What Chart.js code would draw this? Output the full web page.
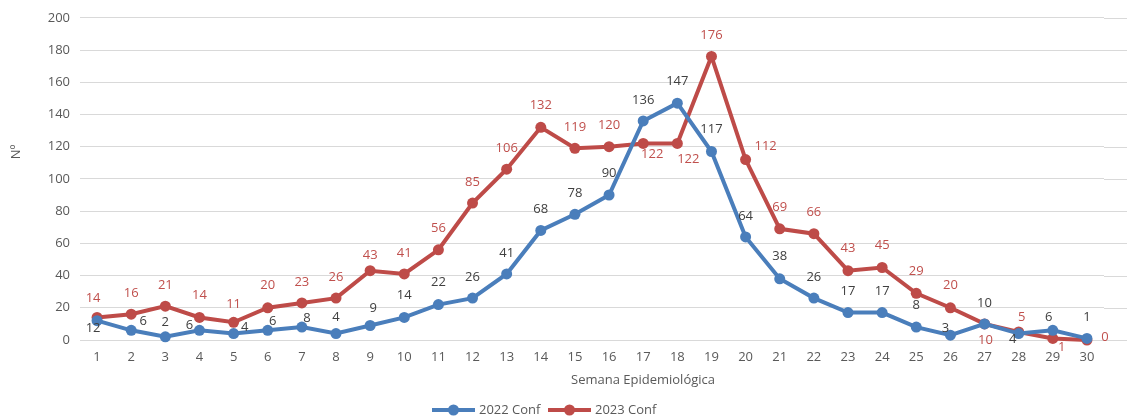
<!DOCTYPE html>
<html>
<head>
<meta charset="utf-8">
<script src="https://cdn.jsdelivr.net/npm/chart.js@4/dist/chart.umd.min.js"></script>
<style>
  html, body { margin: 0; padding: 0; background: #fff; }
  #wrap { width: 1127px; height: 419px; }
</style>
</head>
<body>
<div id="wrap"><canvas id="chart" width="1127" height="419"></canvas></div>
<script>
// data
const weeks = ['1','2','3','4','5','6','7','8','9','10','11','12','13','14','15','16','17','18','19','20','21','22','23','24','25','26','27','28','29','30'];
const conf2022 = [12, 6, 2, 6, 4, 6, 8, 4, 9, 14, 22, 26, 41, 68, 78, 90, 136, 147, 117, 64, 38, 26, 17, 17, 8, 3, 10, 4, 6, 1];
const conf2023 = [14, 16, 21, 14, 11, 20, 23, 26, 43, 41, 56, 85, 106, 132, 119, 120, 122, 122, 176, 112, 69, 66, 43, 45, 29, 20, 10, 5, 1, 0];
const seriesNames = ['2022 Conf', '2023 Conf'];
const xTitle = 'Semana Epidemiológica';
const yTitle = 'Nº';

// colours / font
const blue = '#4a7ebb';
const red = '#be4b48';
const grayText = '#404040';
const redText = '#c0504d';
const tickColor = '#595959';
const fontFam = '"Open Sans", "Liberation Sans", sans-serif';

// where each data label sits relative to its point (dx, dy in px)
const labelShift2022 = [[-4,8],[12,-9],[0,-14],[-10,-5],[11,-6],[5,-9],[5,-9],[0,-16],[3,-17],[0,-22],
  [0,-22],[0,-21],[0,-21],[0,-21],[0,-21],[0,-22],[0,-21],[0,-22],[0,-22],[0,-21],
  [0,-22],[0,-21],[0,-21],[0,-21],[0,-22],[-5,-7],[0,-21],[-6,6],[-4,-13],[0,-21]];
const labelShift2023 = [[-4,-19],[0,-21],[0,-21],[0,-22],[0,-18],[0,-22],[0,-21],[0,-21],[0,-15],[0,-21],
  [0,-21],[0,-21],[0,-21],[0,-22],[0,-21],[0,-21],[9,11],[11,16],[0,-21],[20,-13],
  [0,-22],[0,-21],[0,-22],[0,-22],[0,-22],[0,-22],[1,16],[3,-15],[9,9],[18,-3]];

// draws the value labels next to each point
const valueLabels = {
  id: 'valueLabels',
  afterDatasetsDraw(chart) {
    const ctx = chart.ctx;
    ctx.save();
    ctx.font = '13px ' + fontFam;
    ctx.textAlign = 'center';
    ctx.textBaseline = 'middle';
    chart.data.datasets.forEach((ds, di) => {
      const meta = chart.getDatasetMeta(di);
      const shifts = di === 0 ? labelShift2022 : labelShift2023;
      ctx.fillStyle = di === 0 ? grayText : redText;
      meta.data.forEach((pt, i) => {
        ctx.fillText(String(ds.data[i]), pt.x + shifts[i][0], pt.y + shifts[i][1]);
      });
    });
    ctx.restore();
  }
};

// axis titles, legend and the grid lines running past the plot edge
const extras = {
  id: 'extras',
  beforeDatasetsDraw(chart) {
    const ctx = chart.ctx;
    const y = chart.scales.y;
    ctx.save();
    ctx.strokeStyle = '#d9d9d9';
    ctx.lineWidth = 1;
    y.ticks.forEach(t => {
      const py = Math.round(y.getPixelForValue(t.value)) + 0.5;
      ctx.beginPath();
      ctx.moveTo(chart.chartArea.right, py);
      ctx.lineTo(chart.width, py);
      ctx.stroke();
    });
    ctx.restore();
  },
  afterDraw(chart) {
    const ctx = chart.ctx;
    ctx.save();
    ctx.font = '13px ' + fontFam;
    ctx.fillStyle = tickColor;
    ctx.textBaseline = 'middle';
    ctx.textAlign = 'center';
    ctx.fillText(xTitle, 643, 380);
    ctx.save();
    ctx.translate(16, 152);
    ctx.rotate(-Math.PI / 2);
    ctx.fillText(yTitle, 0, 0);
    ctx.restore();

    // legend
    const items = [[432, blue, seriesNames[0]], [548, red, seriesNames[1]]];
    items.forEach(([x0, col, txt]) => {
      ctx.strokeStyle = col;
      ctx.lineWidth = 4;
      ctx.beginPath();
      ctx.moveTo(x0, 410);
      ctx.lineTo(x0 + 43, 410);
      ctx.stroke();
      ctx.fillStyle = col;
      ctx.beginPath();
      ctx.arc(x0 + 21.5, 410, 5.5, 0, Math.PI * 2);
      ctx.fill();
      ctx.fillStyle = tickColor;
      ctx.textAlign = 'left';
      ctx.fillText(txt, x0 + 47, 410);
    });
    ctx.restore();
  }
};

new Chart(document.getElementById('chart'), {
  type: 'line',
  data: {
    labels: weeks,
    datasets: [
      {
        label: seriesNames[0],
        data: conf2022,
        borderColor: blue,
        backgroundColor: blue,
        borderWidth: 4,
        pointRadius: 5.5,
        pointHoverRadius: 5.5,
        pointBorderWidth: 0,
        tension: 0,
        clip: false
      },
      {
        label: seriesNames[1],
        data: conf2023,
        borderColor: red,
        backgroundColor: red,
        borderWidth: 4,
        pointRadius: 5.5,
        pointHoverRadius: 5.5,
        pointBorderWidth: 0,
        tension: 0,
        clip: false
      }
    ]
  },
  options: {
    responsive: false,
    animation: false,
    layout: { padding: { top: 16, right: 23, left: 0, bottom: 0 } },
    plugins: {
      legend: { display: false },
      tooltip: { enabled: false }
    },
    scales: {
      x: {
        offset: true,
        grid: { display: false, drawTicks: false },
        border: { display: false },
        ticks: { color: tickColor, font: { family: fontFam, size: 13 }, padding: 9, maxRotation: 0, autoSkip: false },
        afterFit: s => { s.height = 79; }
      },
      y: {
        min: 0,
        max: 200,
        ticks: { stepSize: 20, color: tickColor, font: { family: fontFam, size: 13 }, padding: 10 },
        grid: { color: '#d9d9d9', drawTicks: false },
        border: { display: false },
        afterFit: s => { s.width = 80; }
      }
    }
  },
  plugins: [valueLabels, extras]
});
</script>
</body>
</html>
